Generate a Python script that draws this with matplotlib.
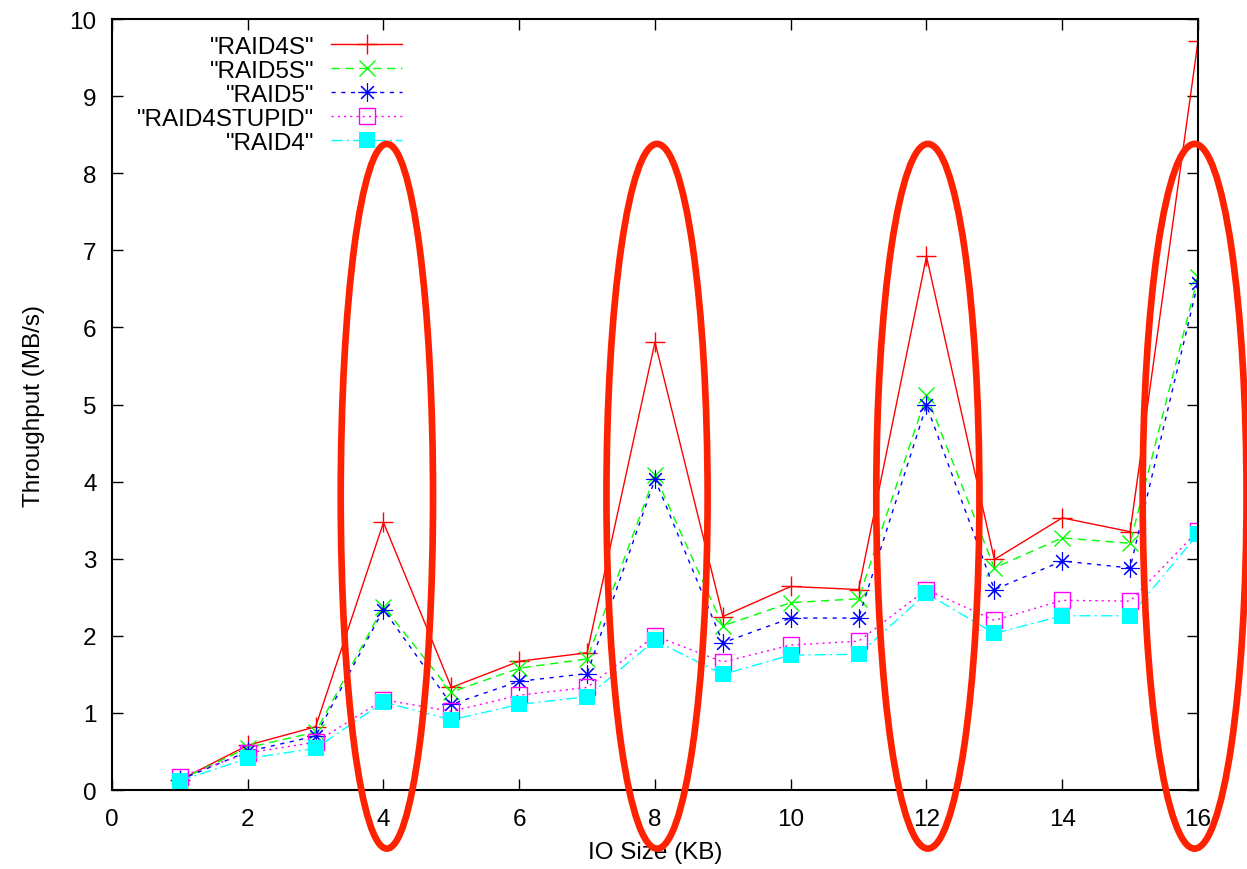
import numpy as np
import matplotlib.pyplot as plt
from matplotlib.patches import Ellipse

plt.rcParams['font.family'] = ['Liberation Sans', 'DejaVu Sans']

io_size = [1, 2, 3, 4, 5, 6, 7, 8, 9, 10, 11, 12, 13, 14, 15, 16]

raid4s = [0.13, 0.58, 0.82, 3.47, 1.33, 1.67, 1.78, 5.81, 2.25, 2.64, 2.60, 6.92, 2.99, 3.53, 3.35, 9.71]
raid5s = [0.13, 0.55, 0.75, 2.38, 1.27, 1.58, 1.70, 4.08, 2.13, 2.43, 2.48, 5.12, 2.88, 3.27, 3.20, 6.66]
raid5 = [0.13, 0.50, 0.70, 2.34, 1.11, 1.41, 1.51, 4.03, 1.91, 2.23, 2.23, 4.99, 2.60, 2.97, 2.88, 6.58]
raid4stupid = [0.17, 0.48, 0.62, 1.17, 1.02, 1.23, 1.33, 2.00, 1.66, 1.88, 1.93, 2.60, 2.20, 2.46, 2.45, 3.36]
raid4 = [0.12, 0.41, 0.54, 1.14, 0.91, 1.11, 1.21, 1.94, 1.50, 1.75, 1.76, 2.55, 2.03, 2.26, 2.26, 3.32]

# highlighted sizes (red ovals)
oval_x = [4.05, 8.03, 12.02, 15.95]
oval_w = [1.36, 1.49, 1.52, 1.53]

fs = 17.5

fig = plt.figure(figsize=(12.47, 8.7), dpi=100)
ax = fig.add_axes([0.0898, 0.0908, 0.8709, 0.8862])

ax.plot(io_size, raid4s, color='#ff0000', ls='-', lw=1, marker='+', ms=14, mew=1, label='"RAID4S"')
ax.plot(io_size, raid5s, color='#00ff00', ls=(0, (6, 4)), lw=1, marker='x', ms=11, mew=1, label='"RAID5S"')
ax.plot(io_size, raid5, color='#0000ff', ls=(0, (3, 4)), lw=1, marker=(8, 2, 0), ms=13, mew=0.8, label='"RAID5"')
ax.plot(io_size, raid4stupid, color='#ff00ff', ls=(0, (1.5, 3)), lw=1, marker='s', ms=11, mew=1,
        mfc='none', label='"RAID4STUPID"')
ax.plot(io_size, raid4, color='#00ffff', ls=(0, (8, 3, 1.5, 3)), lw=1, marker='s', ms=11.5, mew=0,
        label='"RAID4"')

for cx, w in zip(oval_x, oval_w):
    e = Ellipse((cx, 3.81), w, 9.14, fill=False, ec='#ff2200', lw=4.8, clip_on=False, zorder=10)
    ax.add_patch(e)

ax.set_xlim(0, 16)
ax.set_ylim(0, 10)
ax.set_xticks(np.arange(0, 17, 2))
ax.set_yticks(np.arange(0, 11, 1))
ax.tick_params(direction='in', length=8, width=1, top=True, right=True, labelsize=fs)
ax.tick_params(axis='x', pad=13)
ax.tick_params(axis='y', pad=11)
for s in ax.spines.values():
    s.set_linewidth(1.5)

ax.set_xlabel('IO Size (KB)', fontsize=fs, labelpad=8)
ax.set_ylabel('Throughput (MB/s)', fontsize=fs, labelpad=18)

leg = ax.legend(loc='upper right', bbox_to_anchor=(0.267, 0.978), frameon=False, markerfirst=False,
                fontsize=fs, handlelength=2.9, handletextpad=0.7, labelspacing=0.08, borderpad=0,
                borderaxespad=0)

fig.savefig('out.png')
